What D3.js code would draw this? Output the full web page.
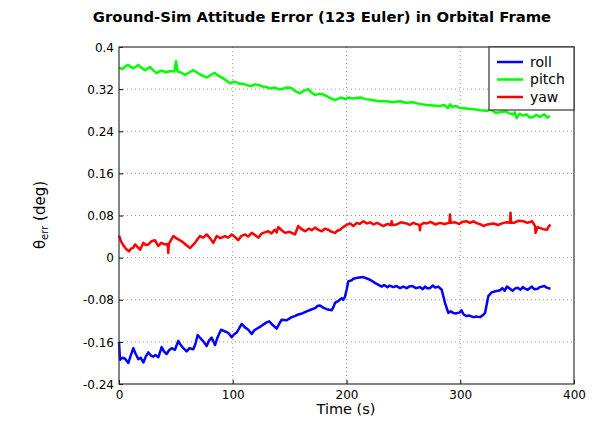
<!DOCTYPE html>
<html><head><meta charset="utf-8">
<script src="https://cdn.jsdelivr.net/npm/d3@7"></script>
<style>body{margin:0;background:#fff}text{font-family:"DejaVu Sans",sans-serif}</style>
</head><body><svg id="c" width="595" height="421"></svg>
<script>
const title = "Ground-Sim Attitude Error (123 Euler) in Orbital Frame";
const xTicks = [0,100,200,300,400];
const yTicks = [-0.24,-0.16,-0.08,0,0.08,0.16,0.24,0.32,0.4];
const seriesNames = ["roll","pitch","yaw"];
const seriesColors = ["#0000ff","#00ff00","#ff0000"];

const rollTime = [0,0.9,3,5.3,8.2,10,12.6,14.5,17.0,19,21.4,23.5,25.8,28,30.2,32,34.6,37.5,39.5,41.9,44,46.3,49.2,52.1,54,56.5,59.5,62,65.3,67,69.2,71.5,74.1,77.1,79,81.5,84.4,86.5,89.7,93,96.1,99.1,101,103.5,105.5,107.9,110.5,113.7,116.7,119,121.1,125,129.8,132,134.2,138.6,141,143.0,147.4,151.8,154.5,157.6,161,165.0,168.5,172.3,174.5,176.7,179.5,182.6,187.0,188.5,189.9,193,195.8,197.2,198.7,200.2,201.6,204.6,206.0,210,214.8,220.7,225,230.9,233,236,238,241.1,244,247,250,252.9,255,258,261,264.6,267,269,271,273.4,276,278,280.7,283.7,286.6,289.5,291.5,293.9,296,299.8,301,303,305.7,308,311.5,314,317.4,319.5,321.8,324.7,327.6,331,335.0,337,339,341,343.1,346,348,350.5,353,355,357,359.3,361,363,365,368.1,370,373.9,376,379.3];
const rollValues = [-0.160,-0.194,-0.190,-0.192,-0.200,-0.188,-0.172,-0.182,-0.193,-0.190,-0.199,-0.188,-0.180,-0.186,-0.188,-0.185,-0.189,-0.170,-0.178,-0.183,-0.176,-0.172,-0.175,-0.158,-0.165,-0.172,-0.178,-0.172,-0.174,-0.165,-0.147,-0.153,-0.159,-0.168,-0.158,-0.152,-0.166,-0.152,-0.137,-0.140,-0.143,-0.151,-0.146,-0.142,-0.135,-0.126,-0.132,-0.137,-0.145,-0.138,-0.135,-0.130,-0.123,-0.121,-0.126,-0.135,-0.125,-0.118,-0.119,-0.113,-0.111,-0.108,-0.106,-0.102,-0.099,-0.096,-0.092,-0.091,-0.095,-0.098,-0.100,-0.094,-0.086,-0.082,-0.077,-0.080,-0.074,-0.060,-0.045,-0.043,-0.040,-0.038,-0.037,-0.042,-0.048,-0.055,-0.052,-0.056,-0.053,-0.056,-0.054,-0.058,-0.055,-0.058,-0.055,-0.054,-0.058,-0.056,-0.060,-0.055,-0.058,-0.058,-0.053,-0.057,-0.055,-0.061,-0.086,-0.105,-0.102,-0.105,-0.106,-0.104,-0.100,-0.108,-0.111,-0.110,-0.113,-0.112,-0.113,-0.110,-0.105,-0.073,-0.066,-0.064,-0.062,-0.058,-0.063,-0.055,-0.058,-0.063,-0.059,-0.057,-0.061,-0.056,-0.059,-0.061,-0.058,-0.055,-0.060,-0.059,-0.056,-0.054,-0.057,-0.059];

const pitchTime = [0,3,5.5,8.2,10.5,12.6,15,17.0,20,22.9,25,27.3,30,33.1,35,37.5,41,44.8,48.8,50.1,51.4,55,58.0,62,65.3,67.5,69.7,73,77.1,80,83.8,87,90.3,94,97.6,100.5,103.5,106,109.3,113,116.7,119.5,122.5,126,129.8,133,137.1,140,143.0,147,151.8,155,159.1,162.5,166.4,169,172.3,176,179.6,185,189.9,193,195.8,199,201.6,206,211.9,217,223.6,229,235.3,241,247.0,252,258.7,264,270.5,276,282.2,286,289,291.0,293,296,299.8,305,311.5,317,323.3,327,331,335.0,340,343,346.6,348,349.6,352,355,358.4,361,364,367,370.1,372,374,376.5,378.9];
const pitchValues = [0.361,0.358,0.363,0.366,0.362,0.360,0.363,0.366,0.360,0.356,0.359,0.362,0.356,0.350,0.353,0.355,0.352,0.354,0.354,0.373,0.354,0.351,0.347,0.352,0.356,0.353,0.350,0.346,0.342,0.346,0.351,0.346,0.342,0.337,0.331,0.334,0.333,0.330,0.330,0.327,0.326,0.329,0.328,0.325,0.324,0.321,0.323,0.320,0.320,0.323,0.322,0.316,0.312,0.317,0.320,0.314,0.309,0.311,0.310,0.304,0.299,0.302,0.304,0.301,0.304,0.302,0.304,0.301,0.299,0.297,0.297,0.295,0.297,0.294,0.295,0.292,0.290,0.289,0.288,0.290,0.284,0.291,0.286,0.288,0.284,0.283,0.282,0.280,0.279,0.281,0.275,0.276,0.278,0.274,0.272,0.276,0.265,0.273,0.270,0.272,0.266,0.267,0.271,0.267,0.270,0.272,0.266,0.269];

const yawTime = [0,2,4.4,6.5,8.8,10.5,12.6,14.1,16,18.5,21.4,23.5,25.8,28.5,31.6,34.6,37,40.4,42.8,43.3,43.8,47.8,51,55.1,58.5,62.4,64.5,66.8,69,71.2,74,77.1,80,82.9,85.9,89,93.2,96,99.1,102,104.9,107.5,110.8,113.5,116.7,119.5,122.5,125,128,131.3,134,137.1,138.6,140.1,143,146.0,150,154.7,157.6,160,163.5,167,169.5,172.3,175,178.2,181,184.0,187,189.9,192,194.3,197,200,203.1,206,209,211.5,214.8,218,221,223.6,227,232.4,236,239.2,239.7,240.2,244.1,248,252.9,255.5,258.7,261,264.1,264.6,265.1,268,270.5,274,278,282.2,286,290.5,291.0,291.5,295.4,299,302,305.7,308.5,311.5,315,318,320.4,324,329.2,333,338.0,341,343.7,344.2,344.7,347.1,351,355.9,359,363.3,365.8,366.2,368,370.5,373,376.4,377.5,379.3];
const yawValues = [0.042,0.030,0.0215,0.016,0.012,0.017,0.019,0.025,0.021,0.015,0.028,0.024,0.025,0.031,0.033,0.022,0.028,0.025,0.026,0.009,0.026,0.041,0.036,0.031,0.025,0.018,0.023,0.028,0.035,0.041,0.038,0.044,0.037,0.028,0.041,0.037,0.041,0.038,0.044,0.039,0.033,0.041,0.044,0.040,0.047,0.043,0.038,0.045,0.048,0.050,0.046,0.053,0.048,0.058,0.052,0.047,0.049,0.044,0.060,0.055,0.050,0.055,0.052,0.057,0.053,0.050,0.055,0.053,0.049,0.047,0.051,0.053,0.058,0.062,0.065,0.060,0.066,0.064,0.069,0.065,0.067,0.063,0.066,0.060,0.064,0.062,0.069,0.062,0.063,0.067,0.065,0.062,0.066,0.064,0.062,0.052,0.062,0.066,0.065,0.068,0.063,0.066,0.064,0.066,0.082,0.066,0.067,0.064,0.068,0.069,0.066,0.069,0.065,0.063,0.060,0.063,0.065,0.062,0.066,0.067,0.066,0.085,0.066,0.066,0.070,0.069,0.066,0.069,0.060,0.047,0.058,0.056,0.054,0.053,0.058,0.063];

const svg = d3.select("#c");
const L=119, R=574, T=47, B=384;
const x = d3.scaleLinear().domain([0,400]).range([L,R]);
const y = d3.scaleLinear().domain([-0.24,0.4]).range([B,T]);

// grid
const g = svg.append("g");
g.selectAll(".gx").data(xTicks.slice(1,-1)).enter().append("line")
  .attr("x1",d=>x(d)).attr("x2",d=>x(d)).attr("y1",T).attr("y2",B)
  .attr("stroke","#999").attr("stroke-width",1).attr("stroke-dasharray","1,3");
g.selectAll(".gy").data(yTicks.slice(1,-1)).enter().append("line")
  .attr("y1",d=>y(d)).attr("y2",d=>y(d)).attr("x1",L).attr("x2",R)
  .attr("stroke","#999").attr("stroke-width",1).attr("stroke-dasharray","1,3");

// lines
const series = [
  {t:rollTime,v:rollValues},
  {t:pitchTime,v:pitchValues},
  {t:yawTime,v:yawValues}
];
const line = d3.line().x(d=>x(d[0])).y(d=>y(d[1]));
series.forEach((s,i)=>{
  svg.append("path").datum(s.t.map((t,j)=>[t,s.v[j]]))
    .attr("d",line).attr("fill","none").attr("stroke",seriesColors[i])
    .attr("stroke-width",2.5).attr("stroke-linejoin","round");
});

// axes
const xAxis = d3.axisBottom(x).tickValues(xTicks).tickSize(-4).tickPadding(6).tickFormat(d3.format("d"));
const yAxis = d3.axisLeft(y).tickValues(yTicks).tickSize(-4).tickPadding(5).tickFormat(d=>d===0?"0":String(d));
const gx = svg.append("g").attr("transform",`translate(0,${B})`).call(xAxis);
const gy = svg.append("g").attr("transform",`translate(${L},0)`).call(yAxis);
[gx,gy].forEach(a=>{
  a.select(".domain").remove();
  a.selectAll("line").attr("stroke","#000");
  a.selectAll("text").attr("font-family","DejaVu Sans").attr("font-size",12).attr("fill","#000");
});
gy.selectAll("text").attr("dy","0.35em");
svg.append("rect").attr("x",L).attr("y",T).attr("width",R-L).attr("height",B-T)
  .attr("fill","none").attr("stroke","#333").attr("stroke-width",1.2);

// legend
const lg = svg.append("g");
lg.append("rect").attr("x",489).attr("y",47).attr("width",85).attr("height",63)
  .attr("fill","#fff").attr("stroke","#333").attr("stroke-width",1.2);
seriesNames.forEach((n,i)=>{
  const yy = 62 + i*17.5;
  lg.append("line").attr("x1",497).attr("x2",523).attr("y1",yy).attr("y2",yy)
    .attr("stroke",seriesColors[i]).attr("stroke-width",2.5);
  lg.append("text").attr("x",530).attr("y",yy).attr("dy","0.35em")
    .attr("font-size",14).text(n);
});

// titles
svg.append("text").attr("x",322).attr("y",22).attr("text-anchor","middle")
  .attr("font-weight","bold").attr("font-size",14.8).text(title);
svg.append("text").attr("x",346).attr("y",414).attr("text-anchor","middle")
  .attr("font-size",14.5).text("Time (s)");
const yl = svg.append("text").attr("transform","translate(45,215) rotate(-90)")
  .attr("text-anchor","middle").attr("font-size",15);
yl.append("tspan").text("θ");
yl.append("tspan").attr("font-size",10).attr("dy",3).text("err");
yl.append("tspan").attr("dy",-3).text(" (deg)");
</script></body></html>
